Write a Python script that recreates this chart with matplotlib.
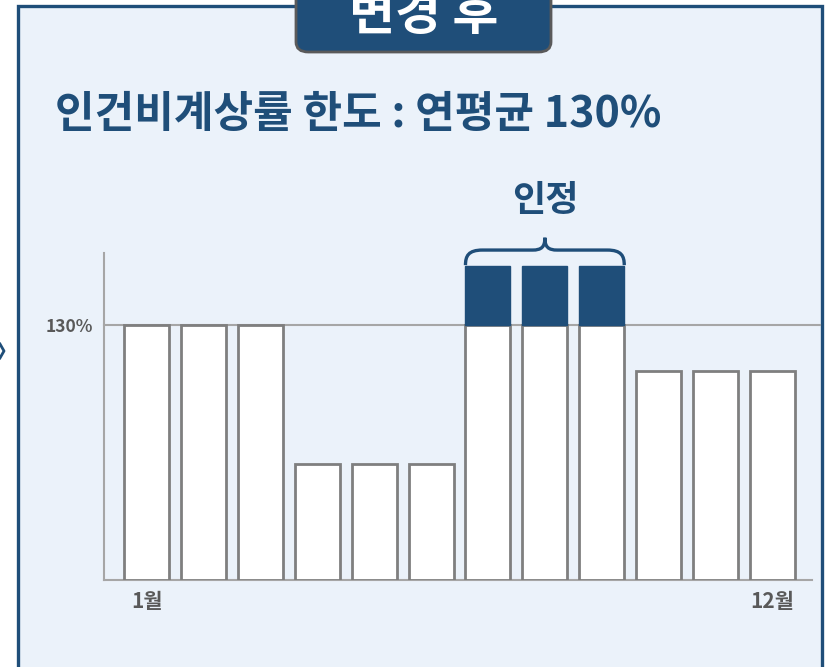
"""
Monthly personnel cost ratio chart (after change).
"""

###########
# Imports #
###########

import matplotlib.pyplot as plt
from matplotlib.patches import Rectangle, FancyBboxPatch, PathPatch
from matplotlib.path import Path

########
# Data #
########

months = list(range(1, 13))
base_values = [130, 130, 130, 59, 59, 59, 130, 130, 130, 106.5, 106.5, 106.5]
extra_values = [0, 0, 0, 0, 0, 0, 30, 30, 30, 0, 0, 0]
limit_value = 130
limit_label = "130%"
x_tick_labels = {0: "1월", 11: "12월"}
title_text = "인건비계상률 한도 : 연평균 130%"
header_text = "변경 후"
brace_text = "인정"

#########
# Style #
#########

DARK_BLUE = "#1F4E79"
PANEL_BG = "#EBF2FA"
BAR_EDGE = "#7F7F7F"
LABEL_GRAY = "#595959"
LINE_GRAY = "#A6A6A6"

plt.rcParams['font.family'] = ['Noto Sans CJK KR', 'DejaVu Sans']

W, H = 825, 667


def px(x, y):
    # pixel position (from top-left) to figure fraction
    return x / W, 1 - y / H


fig = plt.figure(figsize=(W / 100, H / 100), dpi=100)
fig.patch.set_facecolor("white")

# Panel background
fig.patches.append(Rectangle(px(17.5, 720), (821.5 - 17.5) / W, (720 - 5.5) / H,
                             transform=fig.transFigure, facecolor=PANEL_BG,
                             edgecolor=DARK_BLUE, linewidth=2.4, zorder=-2))

# Header box
fig.patches.append(FancyBboxPatch(px(296, 52), (551 - 296) / W, 70 / H,
                                  boxstyle="round,pad=0,rounding_size=0.015",
                                  transform=fig.transFigure, facecolor=DARK_BLUE,
                                  edgecolor="#5A5A5A", linewidth=2, zorder=-1))
fig.text(*px(424, 30), header_text, color="white", fontsize=36, fontweight="bold",
         ha="center", va="baseline", zorder=2)

# Left chevron
fig.lines.append(plt.Line2D([0 / W, 4 / W, 0 / W], [1 - 344 / H, 1 - 351 / H, 1 - 358 / H],
                            transform=fig.transFigure, color=DARK_BLUE, linewidth=2))

# Title
fig.text(*px(55, 127), title_text, color=DARK_BLUE, fontsize=31, fontweight="bold",
         ha="left", va="baseline")

# Chart axes
ax = fig.add_axes([104 / W, (H - 580) / H, (812 - 104) / W, 327 / H])
ax.set_zorder(5)
ax.set_facecolor("none")

x_pos = [m - 1 for m in months]
bar_width = 0.79
ax.bar(x_pos, base_values, width=bar_width, color="white", edgecolor=BAR_EDGE,
       linewidth=2, zorder=3)
extra_x = [x for x, e in zip(x_pos, extra_values) if e > 0]
extra_h = [e for e in extra_values if e > 0]
extra_b = [b for b, e in zip(base_values, extra_values) if e > 0]
ax.bar(extra_x, extra_h, bottom=extra_b, width=bar_width, color=DARK_BLUE,
       edgecolor=DARK_BLUE, linewidth=1, zorder=3)

ax.set_xlim(-0.747, 11.694)
ax.set_ylim(0, 166.7)

# Limit line, runs to the panel edge
ax.plot([0, 1.011], [limit_value, limit_value], color=LINE_GRAY, linewidth=1.5,
        transform=ax.get_yaxis_transform(), clip_on=False, zorder=2)

for side in ["top", "right"]:
    ax.spines[side].set_visible(False)
for side in ["left", "bottom"]:
    ax.spines[side].set_color(LINE_GRAY)
    ax.spines[side].set_linewidth(1.5)

ax.set_yticks([limit_value])
ax.set_yticklabels([limit_label], color=LABEL_GRAY, fontsize=12.5, fontweight="bold")
ax.set_xticks(list(x_tick_labels.keys()))
ax.set_xticklabels(list(x_tick_labels.values()), color=LABEL_GRAY, fontsize=15,
                   fontweight="bold")
ax.tick_params(axis="x", length=0, pad=8)
ax.tick_params(axis="y", length=0, pad=8)

# Brace above the recognised bars
x0 = extra_x[0] - bar_width / 2
x1 = extra_x[-1] + bar_width / 2
xm = (x0 + x1) / 2
top = extra_b[0] + extra_h[0]
y_line = top + 8.2
y_peak = top + 14.5
dx = 0.3
dp = 0.22
verts = [
    (x0, top + 0.5), (x0, y_line - 3), (x0 + 0.05, y_line), (x0 + dx, y_line),
    (xm - dp, y_line),
    (xm - 0.06, y_line), (xm, y_line + 1.5), (xm, y_peak),
    (xm, y_line + 1.5), (xm + 0.06, y_line), (xm + dp, y_line),
    (x1 - dx, y_line),
    (x1 - 0.05, y_line), (x1, y_line - 3), (x1, top + 0.5),
]
codes = [Path.MOVETO, Path.CURVE4, Path.CURVE4, Path.CURVE4,
         Path.LINETO,
         Path.CURVE4, Path.CURVE4, Path.CURVE4,
         Path.CURVE4, Path.CURVE4, Path.CURVE4,
         Path.LINETO,
         Path.CURVE4, Path.CURVE4, Path.CURVE4]
ax.add_patch(PathPatch(Path(verts, codes), facecolor="none", edgecolor=DARK_BLUE,
                       linewidth=2.4, clip_on=False, zorder=4))

fig.text(*px(545, 211), brace_text, color=DARK_BLUE, fontsize=26, fontweight="bold",
         ha="center", va="baseline")

plt.savefig("out.png", dpi=100)
